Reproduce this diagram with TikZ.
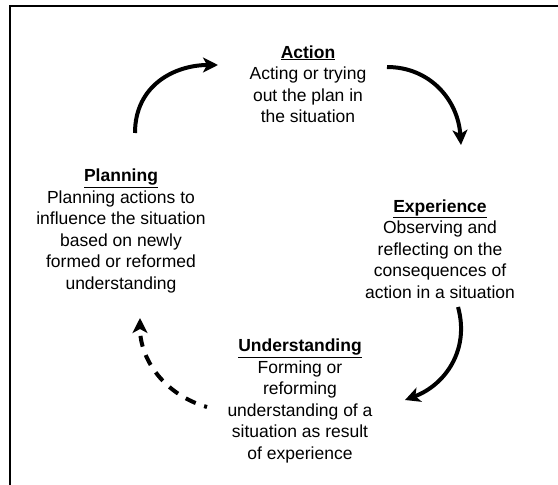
\documentclass[tikz,border=0pt]{standalone}
\usepackage{fontspec}
\setmainfont{Liberation Sans}
\usetikzlibrary{arrows.meta}

\tikzset{
    stage/.style={align=center, font=\fontsize{17.5}{21.5}\selectfont},
    cycle/.style={line width=4pt, -{Stealth[length=15pt, width=15pt, inset=4pt]}},
}
\newcommand{\heading}[1]{\underline{\textbf{#1}}}

\begin{document}
\begin{tikzpicture}[x=1pt, y=-1pt]
        \useasboundingbox (0,0) rectangle (558,485);

        % open frame
        \draw[line width=1.8pt] (10,485) -- (10,6) -- (558,6);

        \node[stage] (action) at (308,84) {\heading{Action}\\Acting or trying\\out the plan in\\the situation};
        \node[stage] (experience) at (440,249) {\heading{Experience}\\Observing and\\reflecting on the\\consequences of\\action in a situation};
        \node[stage] (understanding) at (300,401) {\heading{Understanding}\\Forming or\\reforming\\understanding of a\\situation as result\\of experience};
        \node[stage] (planning) at (121,231) {\heading{Planning}\\Planning actions to\\influence the situation\\based on newly\\formed or reformed\\understanding};

        \coordinate (plan out) at (135,133);
        \coordinate (act in) at (218,65);
        \coordinate (act out) at (387,67);
        \coordinate (exp in) at (461,145);
        \coordinate (exp out) at (458,307);
        \coordinate (und in) at (405,400);
        \coordinate (und out) at (207,407);
        \coordinate (plan in) at (140,318);

        \draw[cycle] (plan out) .. controls (135,85) and (175,65) .. (act in);
        \draw[cycle] (act out) .. controls (430,67) and (458,100) .. (exp in);
        \draw[cycle] (exp out) .. controls (470,350) and (445,385) .. (und in);
        \draw[cycle, dash pattern=on 11pt off 9pt, dash phase=8pt] (und out) .. controls (165,395) and (140,360) .. (plan in);
    \end{tikzpicture}
\end{document}
